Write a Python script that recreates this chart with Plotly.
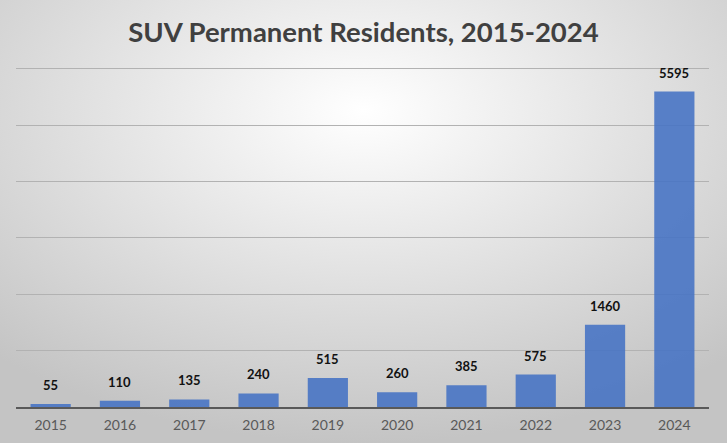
import base64
import plotly.graph_objects as go

years = ["2015", "2016", "2017", "2018", "2019", "2020", "2021", "2022", "2023", "2024"]
residents = [55, 110, 135, 240, 515, 260, 385, 575, 1460, 5595]
title_text = "SUV Permanent Residents, 2015-2024"

W, H = 727, 443
L, R, T, B = 16, 18, 67, 36

# radial grey background like the office chart style
svg = (
    '<svg xmlns="http://www.w3.org/2000/svg" width="727" height="443" preserveAspectRatio="none">'
    '<defs><radialGradient id="g" cx="50%" cy="25%" r="75%" fx="50%" fy="25%">'
    '<stop offset="0%" stop-color="#ffffff"/><stop offset="100%" stop-color="#c4c4c4"/>'
    '</radialGradient></defs><rect width="727" height="443" fill="url(#g)"/></svg>'
)
bg = "data:image/svg+xml;base64," + base64.b64encode(svg.encode()).decode()

fig = go.Figure(go.Bar(
    x=years, y=residents,
    marker=dict(color="#4472c4", opacity=0.88, line=dict(width=0)),
    width=0.58,
))

# value labels above bars (category index as x position)
for i, v in enumerate(residents):
    fig.add_annotation(x=i, y=v, text=str(v), showarrow=False, yanchor="bottom", yshift=9,
                       font=dict(family="Lato", size=13, color="#111111", weight="bold"))

pw, ph = W - L - R, H - T - B
fig.update_layout(
    width=W, height=H,
    margin=dict(l=L, r=R, t=T, b=B, autoexpand=False),
    paper_bgcolor="#d8d8d8", plot_bgcolor="rgba(0,0,0,0)",
    title=dict(text=title_text, x=0.5, xanchor="center", y=1 - 32 / H, yanchor="middle",
               font=dict(family="Lato", size=27.5, color="#404040", weight="bold")),
    images=[dict(source=bg, xref="paper", yref="paper",
                 x=-L / pw, y=1 + T / ph, sizex=W / pw, sizey=H / ph,
                 xanchor="left", yanchor="top", layer="below", sizing="stretch")],
    showlegend=False,
)
fig.update_xaxes(type="category", range=[-0.5, len(years) - 0.5], showgrid=False, ticks="",
                 automargin=False, tickfont=dict(family="Lato", size=14, color="#595959"),
                 ticklabelstandoff=4, showline=True, linecolor="#595959", linewidth=2)
fig.update_yaxes(range=[0, 6030], dtick=1000, showgrid=True, gridcolor="#b2b2b2", gridwidth=1,
                 showticklabels=False, zeroline=False, automargin=False)

fig.write_html("out.html", config={"displayModeBar": False},
               post_script="document.body.style.margin='0';")
